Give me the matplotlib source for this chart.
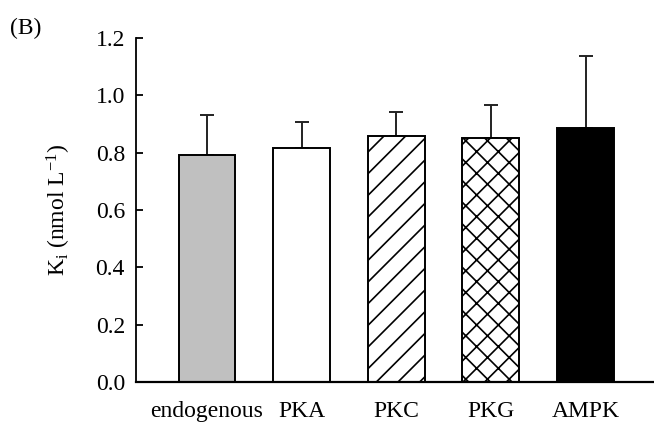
import matplotlib
matplotlib.use("Agg")
import matplotlib.pyplot as plt
import numpy as np

categories = ["endogenous", "PKA", "PKC", "PKG", "AMPK"]
values = [0.79, 0.817, 0.859, 0.850, 0.887]
errors = [0.142, 0.091, 0.081, 0.115, 0.251]
colors = ["#c0c0c0", "white", "white", "white", "black"]
hatches = ["", "", "//", "xx", ""]
yticks = [0.0, 0.2, 0.4, 0.6, 0.8, 1.0, 1.2]

DPI = 130
K = 100.0 / DPI  # keep sizes as if drawn at 100 dpi

plt.rcParams["font.family"] = ["Liberation Serif", "DejaVu Serif"]
plt.rcParams["mathtext.fontset"] = "custom"
plt.rcParams["mathtext.rm"] = "Liberation Serif"
plt.rcParams["mathtext.it"] = "Liberation Serif:italic"
plt.rcParams["hatch.linewidth"] = 1.2 * K

fs = 17 * K
fig = plt.figure(figsize=(654 / DPI, 426 / DPI), dpi=DPI)
ax = fig.add_axes([0.208, 0.1033, 0.79, 0.8077])

x = np.arange(len(categories))
for xi, v, e, c, h in zip(x, values, errors, colors, hatches):
    ax.bar(xi, v, width=0.6, color=c, edgecolor="black", linewidth=1.4 * K, hatch=h, zorder=2)
    ax.errorbar(xi, v, yerr=[[0], [e]], fmt="none", ecolor="#222222", elinewidth=1.4 * K,
                capsize=4.7 * K, capthick=1.4 * K, zorder=1)

ax.set_xlim(-0.75, 4.71)
ax.set_ylim(0, 1.2)
ax.set_yticks(yticks)
ax.set_yticklabels([f"{t:.1f}" for t in yticks], fontsize=fs)
ax.set_xticks(x)
ax.set_xticklabels(categories, fontsize=fs)
ax.tick_params(axis="y", direction="in", length=5 * K, width=1.3 * K, pad=8 * K)
ax.tick_params(axis="x", length=0, pad=14 * K)
for s in ["top", "right"]:
    ax.spines[s].set_visible(False)
ax.spines["left"].set_linewidth(1.3 * K)
ax.spines["bottom"].set_linewidth(1.6 * K)
ax.set_ylabel(r"$\mathrm{K_i}$ (nmol L$^{\mathrm{-1}}$)", fontsize=fs, labelpad=16 * K)
fig.text(0.015, 0.958, "(B)", fontsize=fs, va="top", ha="left")

fig.savefig("out.png", dpi=DPI)
